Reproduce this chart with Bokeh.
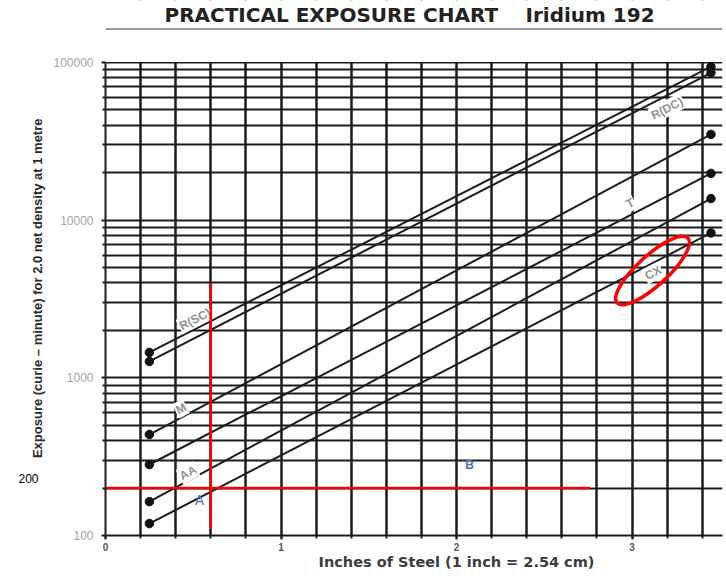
import math
from bokeh.plotting import figure
from bokeh.models import (Range1d, FixedTicker, NumeralTickFormatter, Label, Span,
                          BoxAnnotation, ColumnDataSource, LinearAxis, LogAxis)
from bokeh.embed import file_html
from bokeh.resources import INLINE
from bokeh.core.properties import value

# ---------------- data ----------------
steel_ends = [0.25, 3.45]            # inches of steel at both ends of each curve
curve_names = ["R(SC)", "R(DC)", "M", "T", "AA", "CX"]
exposure_r_sc = [1450, 94000]
exposure_r_dc = [1270, 86000]
exposure_m = [437, 35000]
exposure_t = [282, 19800]
exposure_aa = [164, 13700]
exposure_cx = [119, 8300]
curves = [exposure_r_sc, exposure_r_dc, exposure_m, exposure_t, exposure_aa, exposure_cx]

# where each curve's name is written (inches) and its screen offset
label_steel = [0.51, 3.20, 0.43, 2.99, 0.47, 3.12]
label_offset_px = [-10, 13, -9, -12, -8, 10]

x_ticks = [0, 1, 2, 3]
x_grid = [round(0.2 * i, 1) for i in range(18)]
y_ticks = [100, 1000, 10000, 100000]
y_minor = [m * d for d in (100, 1000, 10000) for m in range(2, 10)]

# worked example drawn in red
example_steel = 0.6
example_exposure = 200
example_vline = [110, 4000]
example_hline_end = 2.76
marker_a = (0.535, 168)
marker_b = (2.074, 278)
circled = (3.117, 4790)

TITLE_1 = "PRACTICAL EXPOSURE CHART"
TITLE_2 = "Iridium 192"
X_TITLE = "Inches of Steel (1 inch = 2.54 cm)"
Y_TITLE = "Exposure (curie \u2013 minute) for 2.0  net density at 1 metre"

# ---------------- layout ----------------
W, H = 724, 580
B_LEFT, B_RIGHT, B_TOP, B_BOTTOM = 105, 2, 0, 45
FRAME_W = W - B_LEFT - B_RIGHT
FRAME_H = H - B_TOP - B_BOTTOM
PX_IN = 175.5
PX_DEC = 157.67
X_END = FRAME_W / PX_IN
Y_END = 10 ** (2 + FRAME_H / PX_DEC)

def px_to_x(px):
    return (px - B_LEFT) / PX_IN

def py_to_y(py):
    return 10 ** (2 + (B_TOP + FRAME_H - py) / PX_DEC)

p = figure(width=W, height=H, y_axis_type="log", output_backend="svg",
           toolbar_location=None, x_range=Range1d(0, X_END),
           y_range=Range1d(100, Y_END), title=None,
           min_border_left=B_LEFT, min_border_right=B_RIGHT,
           min_border_top=B_TOP, min_border_bottom=B_BOTTOM)
p.outline_line_color = None
p.background_fill_color = "white"
p.border_fill_color = "white"

GRID = "#1c1c1c"
p.xgrid.ticker = FixedTicker(ticks=x_grid)
p.xgrid.grid_line_color = GRID
p.xgrid.grid_line_width = 2.5
p.ygrid.ticker = FixedTicker(ticks=y_ticks + y_minor)
p.ygrid.grid_line_color = GRID
p.ygrid.grid_line_width = 2

def plain_axis(axis):
    axis.axis_line_color = None
    axis.major_tick_line_color = None
    axis.minor_tick_line_color = None
    axis.major_tick_out = 0
    axis.major_tick_in = 0
    axis.minor_tick_out = 0
    axis.minor_tick_in = 0
    axis.axis_label_standoff = 0
    return axis

# ----- x axis -----
xa = p.xaxis[0]
xa.ticker = FixedTicker(ticks=x_ticks, minor_ticks=x_grid)
xa.axis_line_width = 2
xa.axis_line_color = GRID
xa.major_tick_out = 4
xa.major_tick_in = 0
xa.minor_tick_out = 3
xa.minor_tick_in = 0
xa.major_tick_line_width = 2
xa.minor_tick_line_width = 2
xa.major_tick_line_color = GRID
xa.minor_tick_line_color = GRID
xa.major_label_text_font = "Liberation Sans"
xa.major_label_text_font_size = "10px"
xa.major_label_text_font_style = "bold"
xa.major_label_text_color = "#555555"
xa.major_label_standoff = 3

# x title as a second bottom axis, its one label centred over 2 inches
xt = plain_axis(LinearAxis(ticker=FixedTicker(ticks=[2.0]),
                           major_label_overrides={2.0: X_TITLE}))
xt.major_label_standoff = 0
xt.major_label_text_font = "DejaVu Sans"
xt.major_label_text_font_size = "14.5px"
xt.major_label_text_font_style = "bold"
xt.major_label_text_color = "#3c3c3c"
p.add_layout(xt, "below")

# ----- y axis -----
ya = p.yaxis[0]
ya.bounds = (100, 100000)
ya.ticker = FixedTicker(ticks=y_ticks, minor_ticks=y_minor)
ya.formatter = NumeralTickFormatter(format="0")
ya.axis_line_width = 2
ya.axis_line_color = GRID
ya.major_tick_out = 4
ya.major_tick_in = 0
ya.minor_tick_out = 3
ya.minor_tick_in = 0
ya.major_tick_line_width = 2
ya.minor_tick_line_width = 2
ya.major_tick_line_color = GRID
ya.minor_tick_line_color = GRID
ya.major_label_text_font = "Liberation Sans"
ya.major_label_text_font_size = "12px"
ya.major_label_text_color = "#a4a4a4"
ya.major_label_standoff = 8
ya.axis_label_standoff = 0

# y title as a second left axis with one vertical label
y_title_at = py_to_y(286)
yt = plain_axis(LogAxis(ticker=FixedTicker(ticks=[y_title_at]),
                        major_label_overrides={y_title_at: Y_TITLE},
                        major_label_orientation="vertical"))
yt.major_label_standoff = 6
yt.major_label_text_font = "Liberation Sans"
yt.major_label_text_font_size = "13px"
yt.major_label_text_font_style = "bold"
yt.major_label_text_color = "#2a2a2a"
p.add_layout(yt, "left")

# the hand-written "200" at the left margin
y200_at = py_to_y(478)
y200 = plain_axis(LogAxis(ticker=FixedTicker(ticks=[y200_at]),
                          major_label_overrides={y200_at: str(example_exposure)}))
y200.major_label_standoff = -12
y200.major_label_text_font = "Liberation Sans"
y200.major_label_text_font_size = "12px"
y200.major_label_text_color = "#000000"
p.add_layout(y200, "left")

# white sheet above the chart (title area)
p.add_layout(BoxAnnotation(bottom=100000 * 1.006, fill_color="white", fill_alpha=1,
                           line_color=None))

# ----- curves -----
for vals in curves:
    p.line(steel_ends, vals, line_color=GRID, line_width=2)
    p.scatter(steel_ends, vals, size=8.5, color="#111111")

lx, ly, la = [], [], []
for name, xs, vals in zip(curve_names, label_steel, curves):
    l0, l1 = math.log10(vals[0]), math.log10(vals[1])
    frac = (xs - steel_ends[0]) / (steel_ends[1] - steel_ends[0])
    lx.append(xs)
    ly.append(10 ** (l0 + frac * (l1 - l0)))
    la.append(math.atan2((l1 - l0) * PX_DEC, (steel_ends[1] - steel_ends[0]) * PX_IN))
src = ColumnDataSource(dict(x=lx, y=ly, text=curve_names, angle=la, yo=label_offset_px))
p.text(x="x", y="y", text="text", angle="angle", y_offset="yo", source=src,
       text_font=value("Liberation Sans"), text_font_size="12px", text_font_style="bold",
       text_color="#939393", text_align="center", text_baseline="middle",
       background_fill_color="white", padding=1)

# ----- red worked example -----
p.line([example_steel, example_steel], example_vline, line_color="#ff0000", line_width=2.5)
p.line([0, example_hline_end], [example_exposure, example_exposure],
       line_color="#ff0000", line_width=2.5)
p.ellipse(x=[circled[0]], y=[circled[1]], width=96, height=30, width_units="screen",
          height_units="screen", angle=0.74, fill_alpha=0, line_color="#ff0000",
          line_width=3.5)
p.add_layout(Label(x=marker_a[0], y=marker_a[1], text="A",
                   text_font="Liberation Sans", text_font_size="14px",
                   text_color="#4472C4", text_align="center", text_baseline="middle"))
p.add_layout(Label(x=marker_b[0], y=marker_b[1], text="B",
                   text_font="Liberation Sans", text_font_size="12px", text_font_style="bold",
                   text_color="#4472C4", text_align="center", text_baseline="middle"))

# ----- title -----
p.add_layout(Label(x=px_to_x(164), y=py_to_y(14), text=TITLE_1,
                   text_font="DejaVu Sans", text_font_size="20px", text_font_style="bold",
                   text_color="#222222", text_align="left", text_baseline="middle"))
p.add_layout(Label(x=px_to_x(525), y=py_to_y(14), text=TITLE_2,
                   text_font="DejaVu Sans", text_font_size="20px", text_font_style="bold",
                   text_color="#222222", text_align="left", text_baseline="middle"))
p.add_layout(Span(location=py_to_y(28.5), dimension="width", line_color="#777777",
                  line_width=1.5))

open("out.html", "w").write(file_html(p, INLINE))
